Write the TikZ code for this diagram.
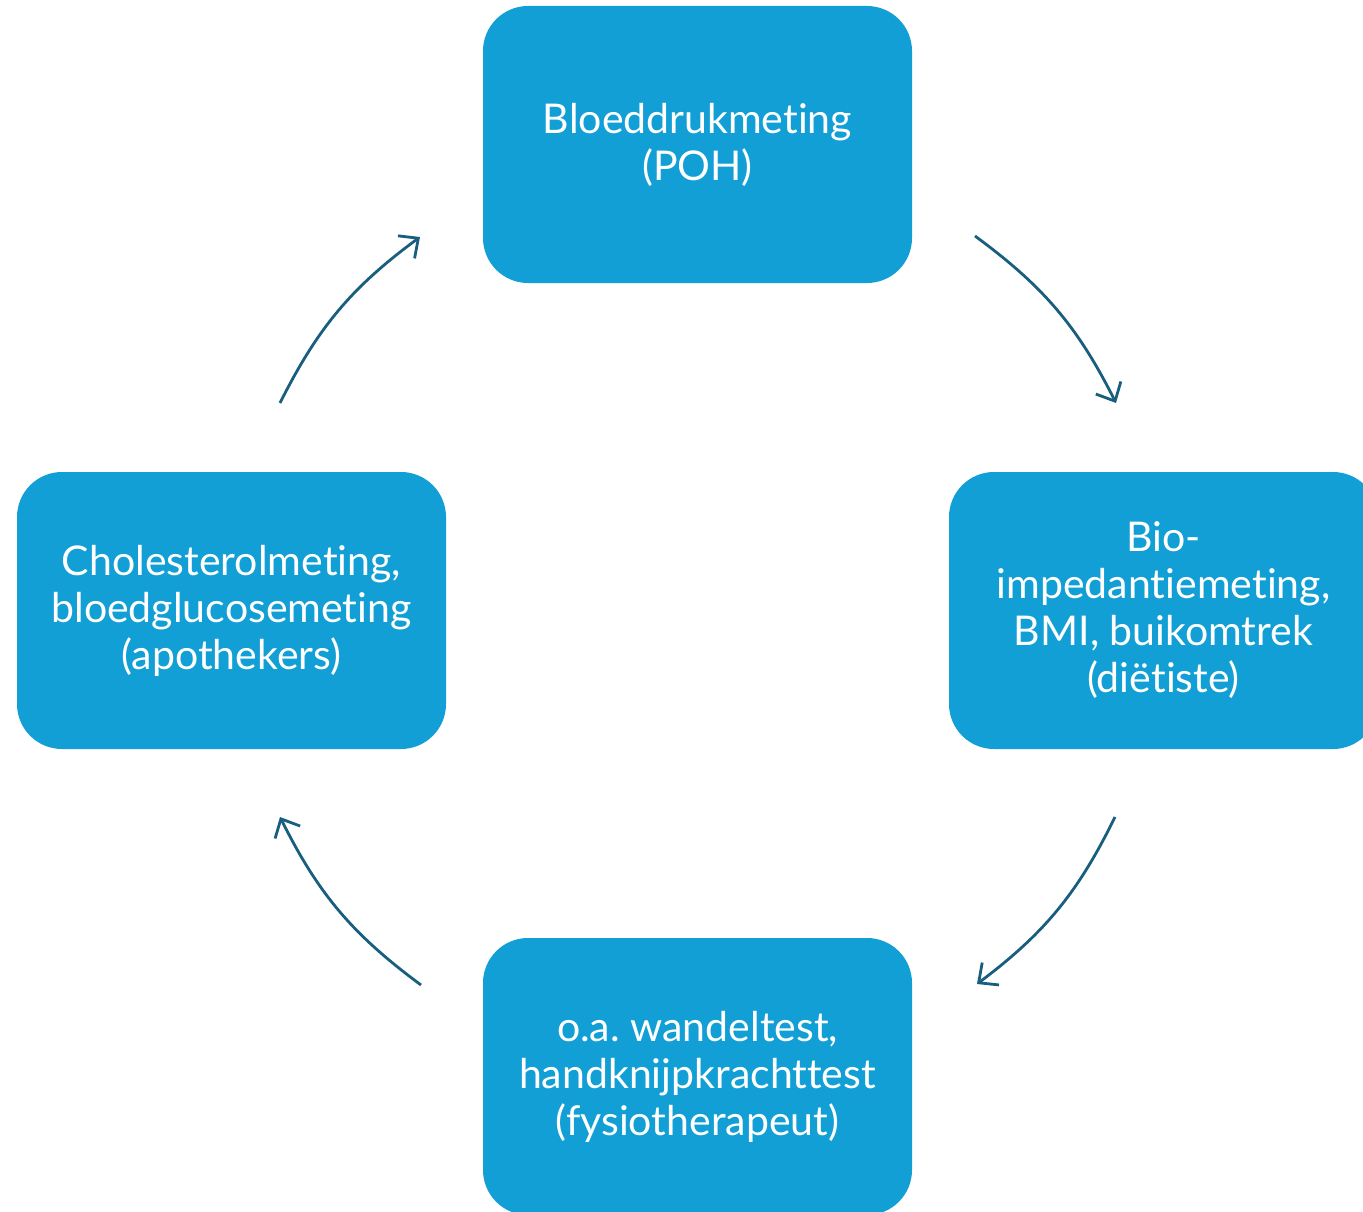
\documentclass[tikz,border=0pt]{standalone}
\usepackage{fontspec}
\setmainfont{Lato}[Ligatures={NoCommon}]
\usetikzlibrary{arrows.meta}
\definecolor{boxblue}{RGB}{17,159,214}
\definecolor{arrowteal}{RGB}{24,94,126}
\frenchspacing
\begin{document}
\begin{tikzpicture}[x=1pt,y=-1pt,
  stagebox/.style={fill=boxblue, rounded corners=45pt, minimum width=429pt,
    minimum height=277pt, inner sep=0pt, align=center, text=white,
    font=\fontsize{41}{47}\selectfont},
  cyclearrow/.style={draw=arrowteal, line width=2.8pt,
    -{Straight Barb[length=15pt,width=28pt]}}]
\useasboundingbox (0,0) rectangle (1363,1212);
\clip (0,0) rectangle (1363,1212);

% the four measurement stages
\node[stagebox] (poh)   at (697.5,144.5)  {Bloeddrukmeting\\(POH)};
\node[stagebox] (diet)  at (1163.5,610.5) {Bio-\\impedantiemeting,\\BMI, buikomtrek\\(diëtiste)};
\node[stagebox] (fysio) at (697.5,1076.5) {o.a. wandeltest,\\handknijpkrachttest\\(fysiotherapeut)};
\node[stagebox] (apo)   at (231.5,610.5)  {Cholesterolmeting,\\bloedglucosemeting\\(apothekers)};

% end points of the cycle arcs
\coordinate (a1s) at (280,403);
\coordinate (a1e) at (420,237);
\coordinate (a2s) at (975,236);
\coordinate (a2e) at (1116,403);
\coordinate (a3s) at (1115,817);
\coordinate (a3e) at (977,984);
\coordinate (a4s) at (421,985);
\coordinate (a4e) at (280,817);

\draw[cyclearrow] (a1s) to[bend left=13.5] (a1e);
\draw[cyclearrow] (a2s) to[bend left=13.5] (a2e);
\draw[cyclearrow] (a3s) to[bend left=13.5] (a3e);
\draw[cyclearrow] (a4s) to[bend left=13.5] (a4e);
\end{tikzpicture}
\end{document}
